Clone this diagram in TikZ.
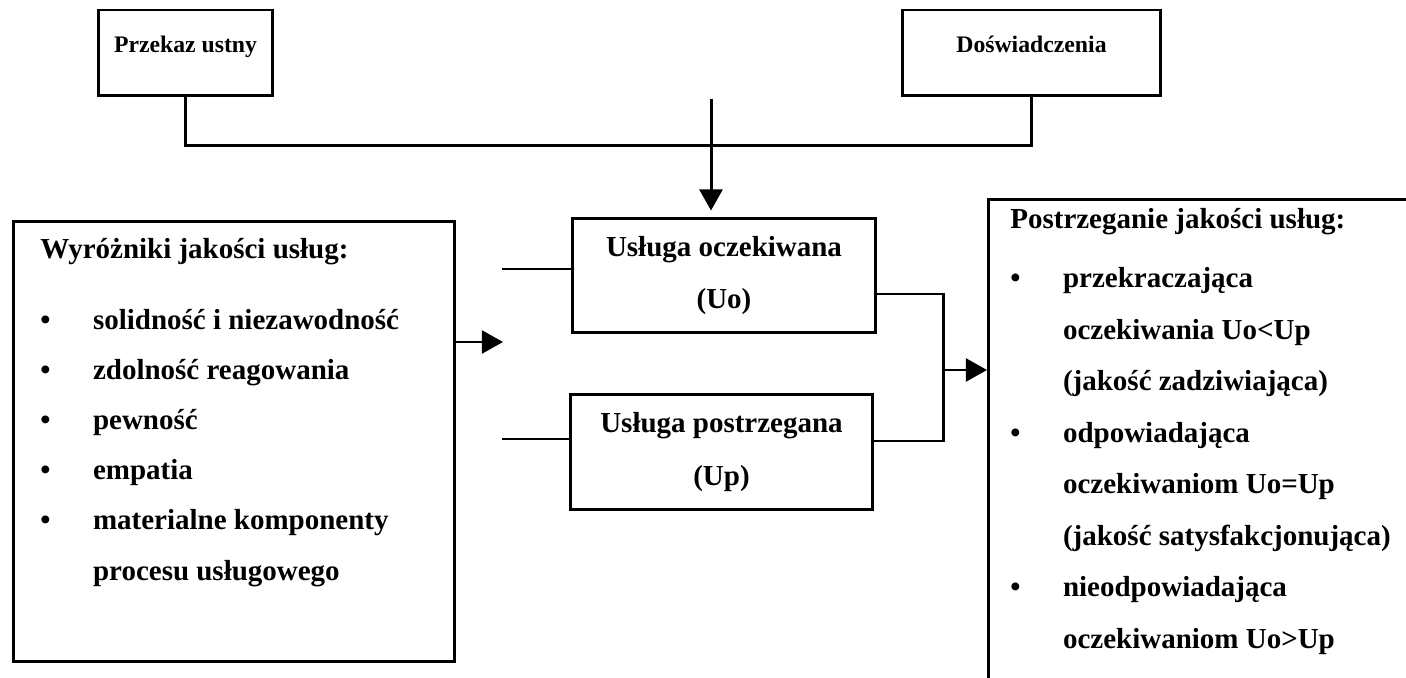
\documentclass[tikz,border=0pt]{standalone}
\usepackage{fontspec}
\setmainfont{Liberation Serif}
\usetikzlibrary{arrows.meta,positioning}

\newcommand{\pkt}{\makebox[30pt][l]{\textbullet}}
\newcommand{\wc}{\hspace*{30pt}}

\begin{document}
\begin{tikzpicture}[
  x=0.02cm, y=-0.02cm,
  blok/.style={rectangle,draw,line width=1.7pt,inner sep=0pt},
  zrodlo/.style={blok,minimum height=1.72cm,font=\fontsize{13.5}{15}\selectfont\bfseries,
                 text height=9pt,text depth=10pt},
  usluga/.style={blok,minimum width=6.06cm,minimum height=2.3cm,align=center,
                 font=\fontsize{16.5}{30}\selectfont\bfseries},
  lista/.style={inner sep=0pt,anchor=base west,align=left},
  lacz/.style={line width=1.7pt},
  strz/.style={lacz,-{Triangle[length=12pt,width=13pt]}}
]
\useasboundingbox (0,0) rectangle (1406,678);
\clip (0,0) rectangle (1406,678);

% zrodla oczekiwan
\node[zrodlo,minimum width=3.5cm] (ustny) at (185.5,53) {Przekaz ustny};
\node[zrodlo,minimum width=5.18cm] (dosw) at (1031.5,53) {Doświadczenia};

% uslugi
\node[usluga] (uo) at (724,275.5) {Usługa oczekiwana\\(Uo)};
\node[usluga] (up) at (721.5,452) {Usługa postrzegana\\(Up)};

% wyrozniki
\node[blok,minimum width=8.84cm,minimum height=8.82cm] (kryt) at (234,441.5) {};
\node[lista,font=\fontsize{16.5}{28.5}\selectfont\bfseries] (krytlista) at (40,580)
  {Wyróżniki jakości usług:\\[12pt]
   \pkt solidność i niezawodność\\
   \pkt zdolność reagowania\\
   \pkt pewność\\
   \pkt empatia\\
   \pkt materialne komponenty\\
   \wc procesu usługowego};

% postrzeganie
\node[blok,minimum width=10cm,minimum height=10cm,anchor=north west] (post) at (987,198) {};
\node[lista,font=\fontsize{16.5}{29.3}\selectfont\bfseries] (postlista) at (1010,648)
  {Postrzeganie jakości usług:\\[4.5pt]
   \pkt przekraczająca\\
   \wc oczekiwania Uo<Up\\
   \wc (jakość zadziwiająca)\\
   \pkt odpowiadająca\\
   \wc oczekiwaniom Uo=Up\\
   \wc (jakość satysfakcjonująca)\\
   \pkt nieodpowiadająca\\
   \wc oczekiwaniom Uo>Up};

% polaczenia
\draw[lacz] (ustny.south) -- ++(0,48) -| (dosw.south);
\coordinate (gora) at (711,99);
\draw[strz,shorten >=3.4pt] (gora) -- (gora |- uo.north);

\coordinate (wej) at (503,342);
\draw[strz] (kryt.east |- wej) -- (wej);
\coordinate (lo) at (502,269);
\coordinate (lp) at (502,439);
\draw[lacz] (lo) -- (lo -| uo.west);
\draw[lacz] (lp) -- (lp -| up.west);

\coordinate (hu) at (0,294);
\coordinate (hp) at (0,441);
\coordinate (zb) at (943,370);
\draw[lacz] (uo.east |- hu) -| (zb) |- (up.east |- hp);
\draw[strz] (zb) -- (zb -| post.west);
\end{tikzpicture}
\end{document}
